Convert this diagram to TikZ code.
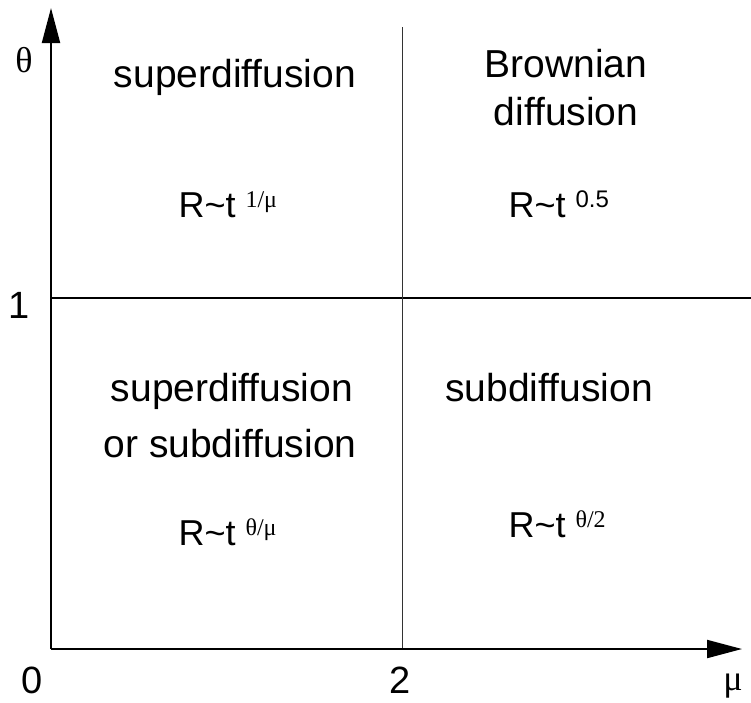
\documentclass[tikz,border=0pt]{standalone}
\usepackage{fontspec}
\setmainfont{Liberation Sans}
\newfontfamily\seriffont{Liberation Serif}
\usetikzlibrary{arrows.meta}

\tikzset{
  region/.style={anchor=base, font=\fontsize{39}{47}\selectfont},
  law/.style={anchor=base west, font=\fontsize{36}{43}\selectfont},
  axislbl/.style={anchor=base, font=\fontsize{38}{45}\selectfont},
  greeklbl/.style={anchor=base, font=\fontsize{36}{43}\selectfont\seriffont},
  axisline/.style={line width=2pt, -{Triangle[length=35pt, width=18pt]}},
  divider/.style={line width=1.3pt}
}
\newcommand{\expo}[1]{\raisebox{10pt}{\fontsize{24}{28}\selectfont #1}}

\begin{document}
\begin{tikzpicture}[x=1pt, y=-1pt]
\useasboundingbox (0,0) rectangle (751,702);
% axes and the two dividing lines
\coordinate (O) at (51,649);
\coordinate (xtip) at (742,649);
\coordinate (ytip) at (51,8);
\coordinate (hleft) at (51,298);
\coordinate (hright) at (751,298);
\coordinate (vtop) at (402,27);
\coordinate (vbot) at (402,649);
\draw[divider] (hleft) -- (hright);
\draw[divider, line width=1pt, black!80] (vtop) -- (vbot);
\draw[axisline] (O) -- (xtip);
\draw[axisline] (O) -- (ytip);

% axis labels
\node[greeklbl] (theta) at (24,72) {θ};
\node[greeklbl] (mu) at (733,690) {μ};
\node[axislbl] (zero) at (32,693) {0};
\node[axislbl] (one) at (19,318) {1};
\node[axislbl] (two) at (400,693) {2};

% upper left
\node[region] (supA) at (235,87) {superdiffusion};
\node[law] (lawA) at (175,217) {R\textasciitilde t \expo{\seriffont 1/μ}};
% upper right
\node[region] (brownA) at (566,77) {Brownian};
\node[region] (brownB) at (566,125) {diffusion};
\node[law] (lawB) at (505,217) {R\textasciitilde t \expo{0.5}};
% lower left
\node[region] (supB) at (232,401) {superdiffusion};
\node[region] (orsub) at (230,457) {or subdiffusion};
\node[law] (lawC) at (175,545) {R\textasciitilde t \expo{\seriffont θ/μ}};
% lower right
\node[region] (subA) at (549,401) {subdiffusion};
\node[law] (lawD) at (505,537) {R\textasciitilde t \expo{\seriffont θ/2}};
\end{tikzpicture}
\end{document}
